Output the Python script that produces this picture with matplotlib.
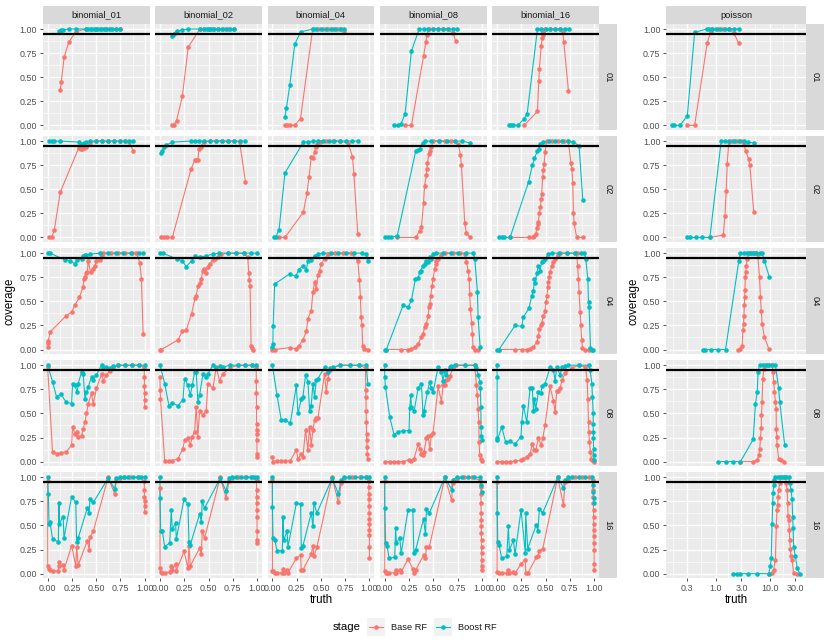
import numpy as np
import matplotlib
matplotlib.use("Agg")
import matplotlib.pyplot as plt
from matplotlib.ticker import NullFormatter

plt.rcParams['font.family'] = ['Liberation Sans', 'DejaVu Sans']

# ---------------- data: row 01 ----------------
b01_r01_base_x = [0.13,0.14,0.17,0.22,0.29,0.39,0.45,0.50,0.55,0.60,0.65,0.70,0.74]
b01_r01_base_y = [0.37,0.45,0.71,0.87,0.97,1.0,1.0,1.0,1.0,1.0,1.0,1.0,1.0]
b01_r01_boost_x = [0.12,0.13,0.14,0.16,0.22,0.29,0.39,0.42,0.45,0.48,0.50,0.52,0.55,0.58,0.60,0.63,0.66,0.70,0.74]
b01_r01_boost_y = [0.98,0.98,0.99,0.99,1.0,1.0,1,1,1,1,1,1,1,1,1,1,1,1,1]

b02_r01_base_x = [0.12,0.14,0.17,0.23,0.29,0.41,0.45,0.50,0.55,0.60,0.65,0.70,0.76]
b02_r01_base_y = [0.0,0.0,0.05,0.30,0.81,1.0,1.0,1.0,1.0,1.0,1.0,1.0,1.0]
b02_r01_boost_x = [0.12,0.14,0.17,0.23,0.29,0.41,0.45,0.48,0.50,0.53,0.56,0.60,0.64,0.68,0.72,0.76]
b02_r01_boost_y = [0.93,0.95,0.98,0.99,1.0,1.0,1.0,1.0,1.0,1.0,1.0,1.0,1.0,1.0,1.0,1.0]

b04_r01_base_x = [0.13,0.15,0.18,0.23,0.29,0.415,0.47,0.52,0.57,0.62,0.67,0.71,0.74]
b04_r01_base_y = [0.0,0.0,0.0,0.0,0.07,1.0,1.0,1.0,1.0,1.0,1.0,1.0,0.98]
b04_r01_boost_x = [0.13,0.145,0.18,0.23,0.29,0.415,0.45,0.50,0.55,0.60,0.65,0.70,0.74]
b04_r01_boost_y = [0.09,0.18,0.42,0.84,0.97,1.0,1.0,1.0,1.0,1.0,1.0,1.0,1.0]

b08_r01_base_x = [0.21,0.275,0.40,0.425,0.435,0.457,0.50,0.55,0.60,0.65,0.705,0.73]
b08_r01_base_y = [0.0,0.0,0.72,0.87,0.94,1.0,1.0,1.0,1.0,1.0,0.955,0.88]
b08_r01_boost_x = [0.10,0.137,0.165,0.21,0.275,0.355,0.40,0.45,0.50,0.55,0.60,0.65,0.70,0.74]
b08_r01_boost_y = [0.0,0.0,0.01,0.12,0.77,1.0,1.0,1.0,1.0,1.0,1.0,1.0,1.0,1.0]

b16_r01_base_x = [0.278,0.416,0.43,0.436,0.454,0.467,0.47,0.478,0.495,0.55,0.60,0.65,0.677,0.687,0.735]
b16_r01_base_y = [0.0,0.145,0.46,0.59,0.82,0.91,0.94,0.97,1.0,1.0,1.0,1.0,0.97,0.87,0.36]
b16_r01_boost_x = [0.12,0.144,0.168,0.216,0.278,0.31,0.416,0.45,0.50,0.55,0.60,0.65,0.70,0.745]
b16_r01_boost_y = [0.0,0.0,0.0,0.0,0.07,0.12,1.0,1.0,1.0,1.0,1.0,1.0,1.0,1.0]

po_r01_base_x = [0.30,0.41,0.70,0.81,0.87,1.1,1.4,1.8,2.18,2.7]
po_r01_base_y = [0.0,0.0,0.855,0.97,1.0,1.0,1.0,1.0,0.955,0.85]
po_r01_boost_x = [0.159,0.17,0.22,0.30,0.41,0.68,0.75,0.87,1.0,1.2,1.5,1.8,2.2,2.7]
po_r01_boost_y = [0.0,0.0,0.0,0.10,0.965,1.0,1.0,1.0,1.0,1.0,1.0,1.0,1.0,1.0]

# ---------------- data: row 02 ----------------
b01_r02_base_x = [0.014,0.041,0.068,0.13,0.32,0.34,0.355,0.375,0.395,0.44,0.50,0.56,0.62,0.68,0.74,0.80,0.84,0.88]
b01_r02_base_y = [0.0,0.0,0.075,0.47,0.93,0.92,0.92,0.93,0.94,0.98,1.0,1.0,1.0,1.0,1.0,1.0,0.99,0.90]
b01_r02_boost_x = [0.014,0.041,0.068,0.13,0.32,0.34,0.375,0.395,0.44,0.50,0.56,0.62,0.68,0.74,0.80,0.84,0.88]
b01_r02_boost_y = [1.0,1.0,1.0,1.0,0.99,0.97,0.98,0.99,1.0,1.0,1.0,1.0,1.0,1.0,1.0,1.0,1.0]

b02_r02_base_x = [0.014,0.038,0.076,0.127,0.32,0.357,0.374,0.39,0.40,0.42,0.45,0.52,0.58,0.64,0.70,0.76,0.82,0.88]
b02_r02_base_y = [0.0,0.0,0.0,0.0,0.71,0.80,0.80,0.80,0.92,0.94,0.99,1.0,1.0,1.0,1.0,1.0,0.99,0.58]
b02_r02_boost_x = [0.014,0.024,0.038,0.058,0.127,0.32,0.36,0.40,0.45,0.52,0.58,0.64,0.70,0.76,0.82,0.88]
b02_r02_boost_y = [0.875,0.90,0.94,0.955,0.99,1.0,1.0,1.0,1.0,1.0,1.0,1.0,1.0,1.0,1.0,1.0]

b04_r02_base_x = [0.069,0.13,0.32,0.357,0.378,0.40,0.42,0.436,0.447,0.46,0.49,0.55,0.62,0.70,0.78,0.825,0.84,0.88]
b04_r02_base_y = [0.0,0.0,0.265,0.46,0.63,0.83,0.82,0.89,0.94,0.97,0.99,1.0,1.0,1.0,0.98,0.84,0.66,0.035]
b04_r02_boost_x = [0.014,0.034,0.069,0.13,0.32,0.37,0.42,0.47,0.52,0.58,0.64,0.70,0.76,0.82,0.88]
b04_r02_boost_y = [0.0,0.0,0.08,0.67,0.99,0.99,1.0,1.0,1.0,1.0,1.0,1.0,1.0,1.0,1.0]

b08_r02_base_x = [0.13,0.32,0.36,0.378,0.40,0.41,0.43,0.435,0.44,0.454,0.464,0.48,0.50,0.56,0.62,0.68,0.756,0.78,0.79,0.825,0.84,0.88]
b08_r02_base_y = [0.0,0.0,0.07,0.11,0.36,0.535,0.645,0.71,0.77,0.87,0.90,0.94,1.0,1.0,1.0,1.0,0.97,0.86,0.75,0.145,0.05,0.0]
b08_r02_boost_x = [0.0,0.034,0.069,0.13,0.32,0.34,0.36,0.39,0.41,0.48,0.56,0.64,0.72,0.80,0.876]
b08_r02_boost_y = [0.0,0.0,0.0,0.02,0.90,0.91,0.92,0.98,1.0,1.0,1.0,1.0,1.0,1.0,0.98]

b16_r02_base_x = [0.134,0.333,0.368,0.38,0.40,0.41,0.42,0.426,0.436,0.447,0.455,0.46,0.47,0.478,0.485,0.495,0.512,0.57,0.63,0.69,0.735,0.76,0.77,0.78,0.787,0.794,0.82,0.883]
b16_r02_base_y = [0.0,0.0,0.0,0.01,0.04,0.10,0.14,0.16,0.25,0.32,0.40,0.455,0.63,0.70,0.765,0.89,1.0,1.0,1.0,1.0,1.0,0.775,0.71,0.56,0.25,0.145,0.0,0.0]
b16_r02_boost_x = [0.017,0.048,0.076,0.134,0.326,0.364,0.385,0.416,0.43,0.443,0.47,0.53,0.60,0.67,0.73,0.787,0.845,0.883]
b16_r02_boost_y = [0.0,0.0,0.0,0.0,0.58,0.75,0.82,0.90,0.92,0.97,0.99,1.0,1.0,1.0,1.0,0.99,0.95,0.39]

po_r02_base_x = [0.785,1.39,1.49,1.57,1.64,1.76,2.0,2.4,2.9,3.33,3.58,4.12,4.3,5.1]
po_r02_base_y = [0.0,0.025,0.22,0.48,0.765,0.99,1.0,1.0,1.0,0.98,0.90,0.81,0.75,0.26]
po_r02_boost_x = [0.30,0.336,0.43,0.57,0.785,1.27,1.5,1.8,2.2,2.7,3.3,4.0,5.1]
po_r02_boost_y = [0.0,0.0,0.0,0.0,0.0,1.0,1.0,1.0,1.0,1.0,1.0,0.99,0.98]

# ---------------- data: row 04 ----------------
b01_r03_base_x = [0.0,0.003,0.007,0.024,0.19,0.247,0.28,0.325,0.366,0.373,0.384,0.394,0.408,0.418,0.442,0.462,0.486,0.503,0.537,0.555,0.572,0.65,0.72,0.80,0.87,0.914,0.949,0.966,0.983]
b01_r03_base_y = [0.03,0.065,0.09,0.18,0.35,0.39,0.46,0.54,0.65,0.73,0.75,0.79,0.80,0.92,0.80,0.84,0.87,0.92,0.93,0.97,1.0,1.0,1.0,1.0,1.0,1.0,0.90,0.73,0.165]
b01_r03_boost_x = [0.0,0.024,0.178,0.23,0.28,0.30,0.35,0.366,0.384,0.40,0.435,0.54,0.62,0.70,0.78,0.86,0.94,0.983]
b01_r03_boost_y = [1.0,1.0,0.93,0.92,0.89,0.93,0.94,0.97,0.98,0.98,0.99,1.0,1.0,1.0,1.0,1.0,1.0,1.0]

b02_r03_base_x = [0.0,0.014,0.185,0.23,0.27,0.325,0.36,0.373,0.39,0.41,0.425,0.44,0.455,0.47,0.49,0.51,0.545,0.57,0.596,0.63,0.70,0.78,0.86,0.904,0.914,0.92,0.928,0.938,0.948,0.962]
b02_r03_base_y = [0.0,0.0,0.10,0.19,0.20,0.37,0.53,0.56,0.66,0.69,0.73,0.82,0.84,0.79,0.86,0.89,0.93,0.94,0.96,0.99,1.0,1.0,1.0,0.96,0.79,0.72,0.66,0.04,0.02,0.0]
b02_r03_boost_x = [0.0,0.03,0.17,0.23,0.27,0.325,0.36,0.41,0.47,0.545,0.61,0.70,0.78,0.86,0.94,0.995]
b02_r03_boost_y = [1.0,1.0,0.94,0.92,0.86,0.92,0.97,0.96,0.97,0.99,1.0,1.0,1.0,1.0,1.0,1.0]

b04_r03_base_x = [0.0,0.024,0.178,0.24,0.274,0.315,0.35,0.366,0.40,0.418,0.435,0.452,0.47,0.486,0.503,0.538,0.572,0.65,0.73,0.81,0.88,0.897,0.907,0.914,0.924,0.93,0.948,0.983]
b04_r03_base_y = [0.0,0.0,0.02,0.01,0.04,0.10,0.19,0.32,0.40,0.595,0.70,0.63,0.77,0.82,0.89,0.94,0.99,1.0,1.0,1.0,0.92,0.72,0.55,0.335,0.25,0.04,0.01,0.0]
b04_r03_boost_x = [0.0,0.005,0.008,0.024,0.178,0.24,0.274,0.315,0.35,0.366,0.40,0.435,0.47,0.52,0.60,0.68,0.76,0.84,0.92,0.966,0.983]
b04_r03_boost_y = [0.025,0.06,0.24,0.68,0.785,0.76,0.83,0.87,0.83,0.92,0.93,0.97,0.99,1.0,1.0,1.0,1.0,1.0,1.0,0.99,0.92]

b08_r03_base_x = [0.017,0.172,0.24,0.275,0.31,0.344,0.378,0.395,0.41,0.43,0.447,0.457,0.464,0.474,0.488,0.498,0.515,0.526,0.533,0.55,0.584,0.62,0.70,0.78,0.825,0.842,0.859,0.87,0.876,0.883,0.894,0.904,0.91,0.928,0.962]
b08_r03_base_y = [0.0,0.0,0.0,0.01,0.025,0.06,0.13,0.16,0.23,0.27,0.35,0.44,0.47,0.56,0.66,0.73,0.84,0.89,0.92,0.94,0.98,1.0,1.0,1.0,0.99,0.91,0.82,0.73,0.58,0.42,0.28,0.16,0.025,0.0,0.0]
b08_r03_boost_x = [0.0,0.017,0.19,0.24,0.275,0.316,0.344,0.36,0.37,0.395,0.41,0.43,0.447,0.464,0.48,0.498,0.533,0.60,0.68,0.76,0.84,0.91,0.928,0.955,0.962,0.983]
b08_r03_boost_y = [0.0,0.0,0.46,0.44,0.51,0.73,0.74,0.80,0.82,0.87,0.89,0.92,0.91,0.96,0.94,0.99,1.0,1.0,1.0,1.0,1.0,1.0,0.94,0.595,0.335,0.025]

b16_r03_base_x = [0.02,0.186,0.254,0.306,0.34,0.375,0.41,0.426,0.436,0.454,0.46,0.478,0.495,0.505,0.515,0.522,0.529,0.536,0.546,0.564,0.581,0.598,0.626,0.65,0.72,0.80,0.82,0.83,0.838,0.845,0.856,0.863,0.873,0.88,0.907,0.942]
b16_r03_base_y = [0.0,0.0,0.0,0.0,0.01,0.03,0.076,0.145,0.21,0.256,0.28,0.35,0.40,0.49,0.56,0.65,0.70,0.75,0.80,0.87,0.91,0.94,0.98,1.0,1.0,1.0,1.0,0.87,0.73,0.595,0.39,0.25,0.095,0.02,0.0,0.0]
b16_r03_boost_x = [0.0,0.02,0.186,0.254,0.27,0.33,0.357,0.375,0.385,0.39,0.41,0.426,0.443,0.46,0.478,0.495,0.529,0.564,0.64,0.72,0.80,0.86,0.90,0.914,0.935,0.942,0.948,0.962,0.976,0.993]
b16_r03_boost_y = [0.0,0.0,0.25,0.24,0.335,0.43,0.56,0.61,0.73,0.69,0.79,0.87,0.82,0.91,0.92,0.94,0.99,1.0,1.0,1.0,1.0,1.0,1.0,0.94,0.73,0.49,0.44,0.02,0.0,0.0]

po_r03_base_x = [2.58,2.89,3.1,3.2,3.3,3.35,3.4,3.45,3.5,3.55,3.6,3.7,3.85,4.1,4.6,5.2,5.7,6.0,6.5,6.76,7.0,7.26,8.0,9.6]
po_r03_base_y = [0.0,0.005,0.04,0.20,0.27,0.35,0.46,0.54,0.62,0.75,0.80,0.87,0.94,1.0,1.0,1.0,1.0,0.99,0.75,0.54,0.40,0.27,0.13,0.01]
po_r03_boost_x = [0.59,0.64,0.81,1.10,1.53,2.69,2.89,3.3,3.8,4.4,5.0,5.7,6.5,7.26,8.0,9.9]
po_r03_boost_y = [0.0,0.0,0.0,0.0,0.0,0.92,1.0,1.0,1.0,1.0,1.0,1.0,1.0,1.0,0.92,0.75]

# ---------------- data: row 08 ----------------
b01_r04_base_x = [0.0,0.05,0.092,0.134,0.19,0.247,0.257,0.28,0.305,0.315,0.35,0.366,0.384,0.40,0.418,0.452,0.47,0.503,0.555,0.572,0.606,0.64,0.675,0.726,0.80,0.87,0.94,0.995,0.996,0.997,0.998,0.999,1.0]
b01_r04_base_y = [0.98,0.10,0.083,0.09,0.10,0.17,0.36,0.29,0.31,0.26,0.27,0.34,0.41,0.50,0.60,0.71,0.60,0.76,0.91,0.84,0.90,0.94,0.97,1.0,1.0,1.0,1.0,0.98,0.88,0.78,0.71,0.64,0.57]
b01_r04_boost_x = [0.0,0.05,0.092,0.134,0.19,0.247,0.257,0.28,0.305,0.315,0.35,0.366,0.384,0.40,0.418,0.452,0.47,0.503,0.555,0.572,0.606,0.64,0.675,0.726,0.80,0.87,0.94,1.0]
b01_r04_boost_y = [1.0,0.83,0.67,0.70,0.62,0.60,0.81,0.79,0.72,0.81,0.93,0.91,0.65,0.72,0.775,0.88,0.85,0.90,1.0,0.97,0.98,0.97,0.99,1.0,1.0,1.0,1.0,1.0]

b02_r04_base_x = [0.0,0.002,0.005,0.048,0.092,0.127,0.185,0.236,0.253,0.288,0.312,0.332,0.356,0.373,0.39,0.408,0.442,0.476,0.493,0.545,0.579,0.613,0.647,0.716,0.80,0.88,0.95,0.99,0.991,0.992,0.993,0.994,0.995,0.996,0.997,0.998,0.999,1.0]
b02_r04_base_y = [0.88,0.74,0.65,0.01,0.005,0.01,0.03,0.135,0.22,0.24,0.17,0.26,0.31,0.57,0.26,0.53,0.48,0.53,0.81,0.76,0.98,0.84,0.91,0.97,1.0,1.0,1.0,0.99,0.97,0.84,0.71,0.57,0.39,0.33,0.29,0.22,0.08,0.05]
b02_r04_boost_x = [0.0,0.048,0.092,0.127,0.185,0.236,0.253,0.288,0.312,0.332,0.356,0.373,0.39,0.408,0.442,0.476,0.493,0.545,0.579,0.613,0.647,0.716,0.80,0.88,0.95,0.99]
b02_r04_boost_y = [1.0,0.81,0.58,0.61,0.58,0.64,0.86,0.79,0.69,0.79,0.93,0.93,0.62,0.69,0.91,0.88,0.91,1.0,0.97,0.99,0.98,1.0,1.0,1.0,1.0,1.0]

b04_r04_base_x = [0.0,0.007,0.048,0.092,0.127,0.185,0.247,0.264,0.298,0.315,0.342,0.366,0.384,0.40,0.418,0.435,0.452,0.469,0.538,0.555,0.572,0.589,0.623,0.692,0.795,0.897,0.96,0.962,0.964,0.966,0.968,0.97,0.972,0.975,0.978,0.983]
b04_r04_base_y = [0.05,0.0,0.005,0.005,0.005,0.01,0.12,0.03,0.08,0.05,0.33,0.12,0.36,0.17,0.33,0.43,0.45,0.45,0.91,0.72,0.86,0.95,0.97,1.0,1.0,1.0,0.97,0.74,0.67,0.52,0.41,0.29,0.22,0.15,0.08,0.03]
b04_r04_boost_x = [0.0,0.048,0.092,0.127,0.185,0.247,0.264,0.298,0.315,0.342,0.366,0.384,0.40,0.418,0.435,0.452,0.469,0.538,0.572,0.589,0.623,0.692,0.795,0.897,0.966,0.983]
b04_r04_boost_y = [1.0,0.69,0.43,0.43,0.40,0.79,0.50,0.65,0.67,0.90,0.83,0.53,0.58,0.81,0.67,0.845,0.86,0.98,0.93,0.97,0.98,1.0,1.0,1.0,1.0,0.81]

b08_r04_base_x = [0.0,0.052,0.096,0.137,0.19,0.251,0.268,0.302,0.344,0.36,0.378,0.395,0.405,0.43,0.447,0.464,0.481,0.498,0.55,0.584,0.601,0.619,0.636,0.653,0.67,0.704,0.739,0.825,0.928,0.945,0.955,0.962,0.969,0.972,0.979,0.99,0.997]
b08_r04_base_y = [0.0,0.0,0.0,0.0,0.0,0.02,0.01,0.03,0.18,0.135,0.08,0.065,0.10,0.24,0.27,0.135,0.28,0.30,0.78,0.62,0.80,0.79,0.85,0.86,0.89,0.97,1.0,1.0,1.0,0.79,0.69,0.55,0.41,0.20,0.07,0.03,0.01]
b08_r04_boost_x = [0.0,0.001,0.007,0.052,0.096,0.137,0.19,0.251,0.258,0.268,0.275,0.302,0.344,0.378,0.395,0.405,0.44,0.464,0.481,0.498,0.55,0.584,0.601,0.619,0.636,0.67,0.687,0.722,0.825,0.928,0.945,0.962,0.98,0.985,0.99,0.992,0.995,0.997]
b08_r04_boost_y = [1.0,0.88,0.775,0.46,0.28,0.31,0.32,0.32,0.56,0.69,0.57,0.52,0.76,0.81,0.48,0.53,0.72,0.83,0.76,0.72,0.98,0.93,0.84,0.95,0.90,0.98,0.99,1.0,1.0,1.0,0.97,0.90,0.83,0.76,0.57,0.36,0.27,0.22]

b16_r04_base_x = [0.0,0.048,0.089,0.134,0.186,0.247,0.271,0.306,0.34,0.364,0.385,0.399,0.426,0.454,0.470,0.495,0.546,0.581,0.598,0.615,0.632,0.649,0.67,0.704,0.77,0.84,0.91,0.928,0.935,0.942,0.945,0.952,0.962,0.972,0.98,1.0]
b16_r04_base_y = [0.0,0.0,0.0,0.0,0.005,0.015,0.03,0.05,0.08,0.18,0.12,0.12,0.24,0.17,0.24,0.38,0.78,0.63,0.51,0.73,0.73,0.76,0.85,0.92,0.97,1.0,0.98,0.85,0.65,0.41,0.31,0.20,0.10,0.03,0.015,0.0]
b16_r04_boost_x = [0.0,0.001,0.002,0.003,0.048,0.089,0.134,0.186,0.247,0.254,0.271,0.306,0.34,0.364,0.375,0.385,0.399,0.426,0.454,0.460,0.495,0.546,0.581,0.598,0.615,0.649,0.67,0.704,0.735,0.84,0.942,0.959,0.976,0.983,0.990,0.991,0.992,0.993,0.994,0.995,1.0]
b16_r04_boost_y = [1.0,0.88,0.24,0.22,0.36,0.20,0.21,0.18,0.26,0.41,0.58,0.41,0.76,0.76,0.52,0.65,0.55,0.72,0.71,0.78,0.81,0.98,0.95,0.84,0.98,0.90,0.98,0.99,1.0,1.0,1.0,0.95,0.81,0.67,0.50,0.39,0.31,0.24,0.135,0.07,0.015]

po_r04_base_x = [2.89,4.96,5.88,6.3,6.57,6.76,6.98,7.05,7.26,7.47,7.8,8.4,9.5,11.1,11.6,11.9,12.3,12.8,13.2,13.3,13.5,13.7,14.7,16.3,18.7]
po_r04_base_y = [0.0,0.0,0.015,0.065,0.13,0.24,0.35,0.48,0.62,0.86,0.96,1.0,1.0,1.0,0.93,0.83,0.72,0.62,0.55,0.34,0.26,0.17,0.03,0.015,0.0]
po_r04_boost_x = [1.10,1.55,2.12,2.89,4.96,5.47,5.88,6.12,6.5,7.5,8.5,9.7,11.0,12.8,14.7,15.4,19.0]
po_r04_boost_y = [0.0,0.0,0.0,0.0,0.23,0.60,0.72,0.93,1.0,1.0,1.0,1.0,1.0,1.0,0.76,0.62,0.17]

# ---------------- data: row 16 ----------------
b01_r05_base_x = [0.0,0.001,0.014,0.024,0.05,0.11,0.117,0.12,0.16,0.168,0.247,0.29,0.298,0.315,0.408,0.428,0.435,0.47,0.623,0.69,0.707,0.74,0.79,0.85,0.93,0.995,0.996,0.997,0.998,0.999,1.0]
b01_r05_base_y = [0.96,0.08,0.05,0.04,0.025,0.025,0.12,0.08,0.09,0.04,0.29,0.08,0.28,0.09,0.34,0.25,0.38,0.44,1.0,0.83,0.97,0.99,1.0,1.0,1.0,0.96,0.87,0.80,0.75,0.70,0.645]
b01_r05_boost_x = [0.0,0.007,0.014,0.024,0.05,0.11,0.117,0.12,0.16,0.168,0.247,0.29,0.298,0.315,0.408,0.428,0.435,0.47,0.623,0.69,0.707,0.74,0.79,0.826,0.877,0.93,0.96,1.0]
b01_r05_boost_y = [1.0,0.83,0.52,0.54,0.36,0.33,0.73,0.52,0.59,0.37,0.80,0.74,0.33,0.37,0.68,0.63,0.77,0.74,0.99,0.88,0.99,1.0,1.0,1.0,1.0,1.0,1.0,1.0]

b02_r05_base_x = [0.0,0.001,0.007,0.024,0.048,0.1,0.116,0.127,0.16,0.168,0.247,0.288,0.298,0.312,0.408,0.425,0.435,0.459,0.62,0.68,0.71,0.743,0.80,0.88,0.95,0.994,0.995,0.996,0.997,0.998,0.999,1.0,1.0,1.0]
b02_r05_base_y = [0.89,0.06,0.02,0.01,0.01,0.02,0.075,0.04,0.10,0.03,0.23,0.06,0.29,0.08,0.265,0.20,0.44,0.37,1.0,0.79,0.96,0.99,1.0,1.0,1.0,0.97,0.87,0.80,0.73,0.66,0.59,0.44,0.35,0.32]
b02_r05_boost_x = [0.0,0.001,0.007,0.024,0.048,0.1,0.116,0.127,0.16,0.168,0.247,0.288,0.298,0.312,0.408,0.425,0.435,0.459,0.62,0.68,0.71,0.743,0.785,0.836,0.887,0.938,0.972,0.997]
b02_r05_boost_y = [1.0,0.78,0.44,0.44,0.28,0.32,0.66,0.46,0.53,0.36,0.77,0.72,0.33,0.30,0.62,0.54,0.75,0.68,0.99,0.86,0.99,1.0,1.0,1.0,1.0,1.0,1.0,1.0]

b04_r05_base_x = [0.0,0.001,0.007,0.024,0.048,0.103,0.11,0.116,0.151,0.161,0.247,0.291,0.298,0.315,0.401,0.418,0.428,0.459,0.616,0.68,0.709,0.743,0.82,0.90,0.96,0.993,0.994,0.995,0.996,0.997,0.998,0.999,1.0,1.0,1.0,1.0,1.0]
b04_r05_base_y = [0.97,0.025,0.025,0.01,0.005,0.01,0.05,0.01,0.04,0.01,0.16,0.195,0.04,0.04,0.205,0.29,0.18,0.275,1.0,0.74,0.94,0.99,1.0,1.0,1.0,0.96,0.90,0.83,0.77,0.70,0.63,0.57,0.52,0.45,0.40,0.28,0.16]
b04_r05_boost_x = [0.0,0.001,0.007,0.024,0.048,0.103,0.11,0.116,0.151,0.161,0.247,0.291,0.298,0.315,0.401,0.418,0.428,0.459,0.616,0.68,0.709,0.743,0.79,0.85,0.91,0.96,1.0]
b04_r05_boost_y = [1.0,0.69,0.37,0.35,0.24,0.24,0.585,0.345,0.44,0.28,0.73,0.72,0.265,0.29,0.63,0.49,0.73,0.63,0.99,0.83,0.97,1.0,1.0,1.0,1.0,1.0,1.0]

b08_r05_base_x = [0.0,0.001,0.01,0.024,0.045,0.103,0.113,0.12,0.155,0.17,0.24,0.29,0.30,0.32,0.40,0.42,0.43,0.46,0.62,0.69,0.70,0.745,0.82,0.90,0.98,0.99,0.991,0.992,0.993,0.994,0.995,0.996,0.997,0.998,0.999,1.0,1.0,1.0]
b08_r05_base_y = [0.96,0.025,0.01,0.005,0.005,0.01,0.04,0.01,0.04,0.02,0.15,0.05,0.01,0.04,0.19,0.16,0.28,0.28,1.0,0.76,0.94,0.98,1.0,1.0,0.97,0.90,0.83,0.73,0.63,0.56,0.49,0.42,0.35,0.28,0.21,0.145,0.075,0.04]
b08_r05_boost_x = [0.0,0.001,0.01,0.024,0.045,0.103,0.113,0.12,0.155,0.17,0.24,0.29,0.30,0.32,0.40,0.42,0.43,0.46,0.62,0.69,0.70,0.745,0.80,0.86,0.92,0.98,0.99,1.0]
b08_r05_boost_y = [1.0,0.68,0.32,0.29,0.16,0.17,0.47,0.32,0.37,0.21,0.66,0.66,0.21,0.25,0.57,0.41,0.67,0.63,1.0,0.87,0.97,1.0,1.0,1.0,1.0,1.0,0.92,0.85]

b16_r05_base_x = [0.0,0.001,0.02,0.048,0.1,0.117,0.127,0.168,0.185,0.247,0.292,0.295,0.316,0.405,0.42,0.436,0.47,0.625,0.684,0.70,0.735,0.80,0.88,0.95,0.99,0.991,0.992,0.993,0.994,0.995,0.996,0.997,0.998,0.999,1.0,1.0,1.0]
b16_r05_base_y = [0.955,0.015,0.005,0.01,0.005,0.04,0.005,0.015,0.005,0.10,0.145,0.005,0.005,0.17,0.18,0.24,0.255,1.0,0.71,0.955,0.97,1.0,1.0,1.0,0.97,0.87,0.80,0.73,0.66,0.59,0.52,0.45,0.39,0.32,0.25,0.10,0.04]
b16_r05_boost_x = [0.0,0.003,0.007,0.02,0.048,0.1,0.117,0.127,0.168,0.185,0.247,0.292,0.295,0.316,0.405,0.42,0.436,0.47,0.625,0.684,0.70,0.735,0.77,0.84,0.91,0.976,0.986,0.993,0.995,1.0]
b16_r05_boost_y = [1.0,0.63,0.33,0.30,0.16,0.18,0.49,0.25,0.345,0.20,0.66,0.21,0.63,0.26,0.51,0.44,0.67,0.63,1.0,0.89,0.97,1.0,1.0,1.0,1.0,1.0,0.92,0.85,0.78,0.73]

po_r05_base_x = [9.64,11.1,11.9,12.8,13.3,13.7,14.1,14.3,14.7,15.4,15.8,17.5,19.5,20.4,21.0,21.6,21.9,22.5,23.2,23.5,24.2,24.9,26.0,27.8,32.2]
po_r05_base_y = [0.0,0.005,0.04,0.145,0.49,0.66,0.715,0.80,0.87,0.94,1.0,1.0,1.0,0.94,0.87,0.73,0.60,0.56,0.455,0.35,0.26,0.18,0.145,0.005,0.0]
po_r05_boost_x = [2.12,2.44,2.89,3.95,5.88,9.64,10.3,10.7,11.1,11.4,11.6,11.9,12.3,12.8,14.5,16.5,18.5,20.5,22.5,23.5,24.9,26.0,26.7,27.2,27.8,30.0,32.2,35.9]
po_r05_boost_y = [0,0,0,0,0,0,0.075,0.16,0.52,0.73,0.835,0.92,0.97,1.0,1,1,1,1,1,0.94,0.87,0.77,0.59,0.47,0.28,0.18,0.06,0]

# ---------------- labels / scales ----------------
column_names = ["binomial_01", "binomial_02", "binomial_04", "binomial_08", "binomial_16"]
column_keys = ["b01", "b02", "b04", "b08", "b16"]
row_names = ["01", "02", "04", "08", "16"]
row_keys = ["r01", "r02", "r03", "r04", "r05"]
poisson_name = "poisson"
y_ticks = [0.0, 0.25, 0.5, 0.75, 1.0]
y_ticklabels = ["0.00", "0.25", "0.50", "0.75", "1.00"]
binom_xticks = [0.0, 0.25, 0.5, 0.75, 1.0]
binom_xticklabels = ["0.00", "0.25", "0.50", "0.75", "1.00"]
pois_xticks = [0.3, 1.0, 3.0, 10.0, 30.0]
pois_xticklabels = ["0.3", "1.0", "3.0", "10.0", "30.0"]
target_coverage = 0.95
stage_labels = ["Base RF", "Boost RF"]

RED = "#F8766D"
TEAL = "#00BFC4"
PANEL_BG = "#EBEBEB"
STRIP_BG = "#D9D9D9"

W, H = 830, 642
fig = plt.figure(figsize=(W / 100, H / 100), dpi=100)
fig.patch.set_facecolor("white")


def px_axes(left, top, w, h):
    return fig.add_axes([left / W, 1 - (top + h) / H, w / W, h / H])


def get(name):
    return globals()[name]


# minor breaks (midpoints between majors, as ggplot does)
y_minor = [(a + b) / 2 for a, b in zip(y_ticks[:-1], y_ticks[1:])]
bx_minor = [(a + b) / 2 for a, b in zip(binom_xticks[:-1], binom_xticks[1:])]
lg = np.log10(pois_xticks)
lg_ext = np.concatenate([[lg[0] - (lg[1] - lg[0])], lg, [lg[-1] + (lg[1] - lg[0])]])
pois_minor = list(10 ** ((lg_ext[:-1] + lg_ext[1:]) / 2))

POIS_XLIM = (0.121, 47.1)


def style_panel(ax, logx, show_x, show_y):
    ax.set_facecolor(PANEL_BG)
    for s in ax.spines.values():
        s.set_visible(False)
    ax.set_ylim(-0.05, 1.05)
    ax.set_yticks(y_ticks)
    ax.set_yticklabels(y_ticklabels)
    ax.set_yticks(y_minor, minor=True)
    if logx:
        ax.set_xscale("log")
        ax.set_xticks(pois_xticks)
        ax.set_xticklabels(pois_xticklabels)
        ax.set_xticks([m for m in pois_minor if POIS_XLIM[0] < m < POIS_XLIM[1]], minor=True)
        ax.xaxis.set_minor_formatter(NullFormatter())
        ax.set_xlim(*POIS_XLIM)
    else:
        ax.set_xlim(-0.05, 1.05)
        ax.set_xticks(binom_xticks)
        ax.set_xticklabels(binom_xticklabels)
        ax.set_xticks(bx_minor, minor=True)
    ax.grid(True, which="major", color="white", lw=0.95)
    ax.grid(True, which="minor", color="white", lw=0.45)
    ax.set_axisbelow(True)
    ax.tick_params(which="minor", length=0)
    ax.tick_params(which="major", length=2.4, width=0.6, color="#333333",
                   labelsize=6.4, labelcolor="#4D4D4D", pad=1.6)
    ax.tick_params(axis="x", bottom=show_x, labelbottom=show_x)
    ax.tick_params(axis="y", left=show_y, labelleft=show_y)


def draw_series(ax, prefix):
    series = [(get(prefix + "_base_x"), get(prefix + "_base_y"), RED),
              (get(prefix + "_boost_x"), get(prefix + "_boost_y"), TEAL)]
    prepared = []
    for xs, ys, c in series:
        n = min(len(xs), len(ys))
        x = np.asarray(xs[:n], float)
        y = np.asarray(ys[:n], float)
        order = np.argsort(x, kind="stable")
        prepared.append((x[order], y[order], c))
    for x, y, c in prepared:
        ax.plot(x, y, color=c, lw=0.8, zorder=3, solid_capstyle="butt")
    for x, y, c in prepared:
        ax.plot(x, y, "o", color=c, ms=3.3, mec="none", zorder=4)
    ax.axhline(target_coverage, color="black", lw=1.6, zorder=5)


def strip_top(left, width, label):
    s = px_axes(left, 6.0, width, 18.2)
    s.set_facecolor(STRIP_BG)
    s.set_xticks([]); s.set_yticks([])
    for sp in s.spines.values():
        sp.set_visible(False)
    s.text(0.5, 0.5, label, ha="center", va="center", fontsize=6.7, color="#1A1A1A",
           transform=s.transAxes)


def strip_right(left, top, height, label):
    s = px_axes(left, top, 18.0, height)
    s.set_facecolor(STRIP_BG)
    s.set_xticks([]); s.set_yticks([])
    for sp in s.spines.values():
        sp.set_visible(False)
    s.text(0.5, 0.5, label, ha="center", va="center", fontsize=6.7, color="#1A1A1A",
           rotation=-90, transform=s.transAxes)


col_lefts = [42.8 + i * 112.35 for i in range(5)]
panel_w = 106.8
row_tops = [24.2 + i * 112.07 for i in range(5)]
panel_h = 106.0
pois_left, pois_w = 666.0, 140.0

for ci, (cname, ckey) in enumerate(zip(column_names, column_keys)):
    strip_top(col_lefts[ci], panel_w, cname)
    for ri, rkey in enumerate(row_keys):
        ax = px_axes(col_lefts[ci], row_tops[ri], panel_w, panel_h)
        style_panel(ax, False, ri == 4, ci == 0)
        draw_series(ax, ckey + "_" + rkey)

strip_top(pois_left, pois_w, poisson_name)
for ri, (rname, rkey) in enumerate(zip(row_names, row_keys)):
    ax = px_axes(pois_left, row_tops[ri], pois_w, panel_h)
    style_panel(ax, True, ri == 4, True)
    draw_series(ax, "po_" + rkey)
    strip_right(col_lefts[4] + panel_w, row_tops[ri], panel_h, rname)
    strip_right(pois_left + pois_w, row_tops[ri], panel_h, rname)

# axis titles
mid_y = 1 - (row_tops[0] + row_tops[4] + panel_h) / 2 / H
fig.text(10 / W, mid_y, "coverage", rotation=90, ha="center", va="center", fontsize=8.3)
fig.text(633 / W, mid_y, "coverage", rotation=90, ha="center", va="center", fontsize=8.3)
fig.text((col_lefts[0] + col_lefts[4] + panel_w) / 2 / W, 1 - 600 / H, "truth",
         ha="center", va="center", fontsize=8.3)
fig.text((pois_left + pois_w / 2) / W, 1 - 600 / H, "truth", ha="center", va="center", fontsize=8.3)

# legend
leg_y = 627
fig.text(346.5 / W, 1 - leg_y / H, "stage", ha="center", va="center", fontsize=8.2)
for (kx, tx), lab, c in zip([(367, 391), (434, 458)], stage_labels, [RED, TEAL]):
    k = px_axes(kx, leg_y - 9, 18, 18)
    k.set_facecolor("#F2F2F2")
    k.set_xticks([]); k.set_yticks([])
    for sp in k.spines.values():
        sp.set_visible(False)
    k.set_xlim(0, 1); k.set_ylim(0, 1)
    k.plot([0.1, 0.9], [0.5, 0.5], color=c, lw=0.8)
    k.plot([0.5], [0.5], "o", color=c, ms=3.3, mec="none")
    fig.text(tx / W, 1 - leg_y / H, lab, ha="left", va="center", fontsize=6.7, color="#1A1A1A")

fig.savefig("out.png", dpi=100)
